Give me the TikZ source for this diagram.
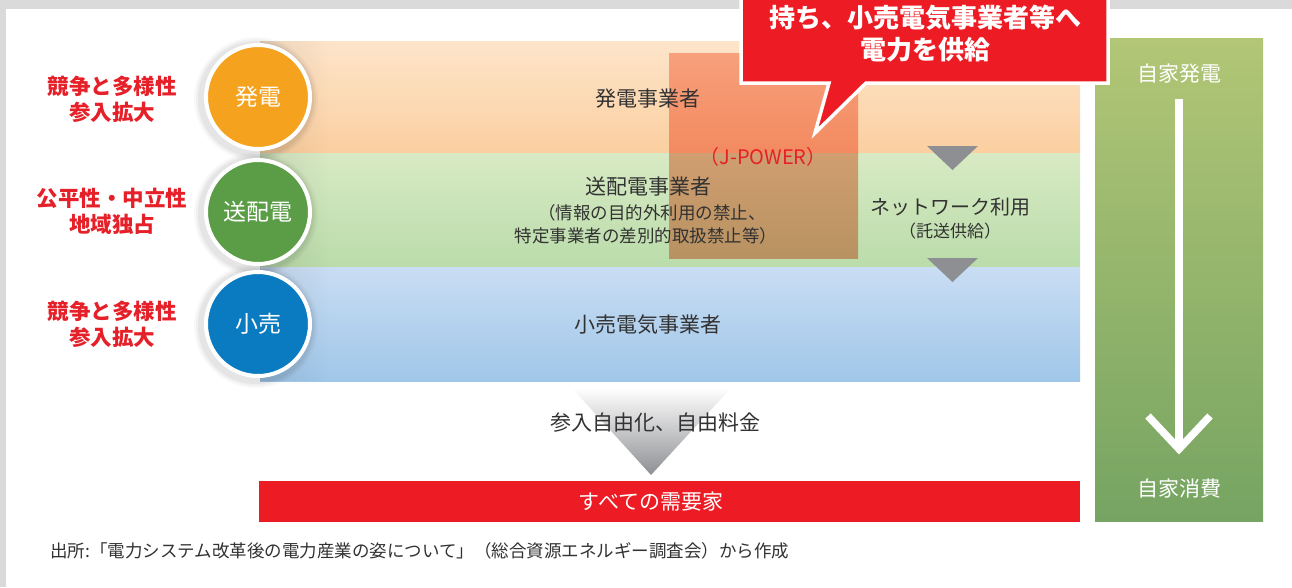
\documentclass[tikz,border=0pt]{standalone}
\usepackage{fontspec}
\setmainfont{Noto Sans CJK JP}
\usetikzlibrary{fadings}
\definecolor{lblred}{RGB}{230,32,40}
\definecolor{barred}{RGB}{237,28,36}
\definecolor{txtdark}{RGB}{50,50,50}
\definecolor{or1}{RGB}{253,229,202}
\definecolor{or2}{RGB}{251,207,160}
\definecolor{gr1}{RGB}{216,234,196}
\definecolor{gr2}{RGB}{186,220,170}
\definecolor{bl1}{RGB}{201,221,243}
\definecolor{bl2}{RGB}{160,199,233}
\definecolor{jo1}{RGB}{247,160,124}
\definecolor{jo2}{RGB}{243,138,96}
\definecolor{jg1}{RGB}{208,158,112}
\definecolor{jg2}{RGB}{184,146,98}
\definecolor{cor}{RGB}{245,163,30}
\definecolor{cgr}{RGB}{91,157,70}
\definecolor{cbl}{RGB}{11,123,193}
\definecolor{trigray}{RGB}{142,143,147}
\definecolor{col1}{RGB}{178,198,118}
\definecolor{col2}{RGB}{118,164,98}
\definecolor{framegray}{RGB}{218,218,218}
\begin{document}
\begin{tikzpicture}[x=1pt,y=-1pt,
  redlbl/.style={font=\bfseries\fontsize{21.5}{26}\selectfont, text=lblred, align=center, inner sep=0},
  bandtxt/.style={font=\fontsize{21}{26}\selectfont, text=txtdark, inner sep=0, align=center},
  subtxt/.style={font=\fontsize{17.5}{23}\selectfont, text=txtdark, inner sep=0, align=center},
  disc/.style={circle, minimum size=104, inner sep=0, draw=white, line width=4, font=\fontsize{23}{26}\selectfont, text=white},
  whitetxt/.style={font=\fontsize{21}{26}\selectfont, text=white, inner sep=0, align=center},
  calltxt/.style={font=\bfseries\fontsize{26}{32}\selectfont, text=white, inner sep=0},
  gtri/.style={fill=trigray}
]
\useasboundingbox (0,0) rectangle (1292,587);
% frame
\fill[framegray] (0,0) rectangle (1292,587);
\fill[white] (6,9) rectangle (1292,587);

% bands
\shade[top color=or1, bottom color=or2] (260,41) rectangle (1080,153);
\shade[top color=gr1, bottom color=gr2] (260,153) rectangle (1080,267);
\shade[top color=bl1, bottom color=bl2] (260,267) rectangle (1080,381);
\fill[black, opacity=0.08, path fading=east] (260,41) rectangle (330,381);

% J-POWER box
\shade[top color=jo1, bottom color=jo2] (669,53) rectangle (858,153);
\shade[top color=jg1, bottom color=jg2] (669,153) rectangle (858,258);

% gray triangles
\fill[gtri] (927,146) -- (978,146) -- (952.5,170) -- cycle;
\fill[gtri] (927,258) -- (978,258) -- (952.5,282) -- cycle;

% big gradient triangle
\shade[top color=white, bottom color=trigray] (572,388) -- (731,388) -- (651,475) -- cycle;

% red bar
\fill[barred] (259,481) rectangle (1080,522);
\node[whitetxt] (all) at (651,502) {すべての需要家};

% right column
\shade[top color=col1, bottom color=col2] (1095,38) rectangle (1263,521);
\node[whitetxt] (jika1) at (1179,74) {自家発電};
\node[whitetxt] (jika2) at (1179,489) {自家消費};
\coordinate (atop) at (1179,99);
\coordinate (abot) at (1179,449);
\draw[white, line width=7.5] (atop) -- ([yshift=4]abot);
\draw[white, line width=7.5, line join=miter] ([xshift=-31,yshift=33]abot) -- (abot) -- ([xshift=31,yshift=33]abot);

% circles with soft shadow
\foreach \cy in {97,212,324}{
  \foreach \r/\o in {62/0.025,60/0.035,58/0.045}{
    \fill[black, opacity=\o] (256,\cy+2) circle (\r);
  }
}
\node[disc, fill=cor] (cgen) at (258,97) {発電};
\node[disc, fill=cgr] (ctrans) at (258,212) {送配電};
\node[disc, fill=cbl] (cret) at (258,324) {小売};

% red labels
\node[redlbl] (l1) at (112,99) {競争と多様性\\参入拡大};
\node[redlbl] (l2) at (112,211) {公平性・中立性\\地域独占};
\node[redlbl] (l3) at (112,324) {競争と多様性\\参入拡大};

% band texts
\node[bandtxt] (gen) at (648,99) {発電事業者};
\node[bandtxt, text=lblred, font=\fontsize{20}{24}\selectfont] (jp) at (763,157) {（J-POWER）};
\node[bandtxt] (trans) at (648,187) {送配電事業者};
\node[subtxt] (tsub1) at (652,213) {（情報の目的外利用の禁止、};
\node[subtxt] (tsub2) at (646,236) {特定事業者の差別的取扱禁止等）};
\node[bandtxt, font=\fontsize{20}{24}\selectfont] (net) at (950,207) {ネットワーク利用};
\node[subtxt, font=\fontsize{17}{22}\selectfont] (net2) at (950,231) {（託送供給）};
\node[bandtxt] (ret) at (648,325) {小売電気事業者};
\node[bandtxt] (lib) at (655,423) {参入自由化、自由料金};

% callout
\draw[white, line width=3.5, fill=barred, line join=miter]
  (741,-10) -- (1108,-10) -- (1108,83) -- (866,83) -- (815,133) -- (829,83) -- (741,83) -- cycle;
\node[calltxt] (c1) at (925,18) {持ち、小売電気事業者等へ};
\node[calltxt] (c2) at (925,50) {電力を供給};

% source
\node[anchor=west, inner sep=0, font=\fontsize{17.5}{21}\selectfont, text=txtdark] (src) at (50,551)
  {出所:「電力システム改革後の電力産業の姿について」（総合資源エネルギー調査会）から作成};
\end{tikzpicture}
\end{document}
